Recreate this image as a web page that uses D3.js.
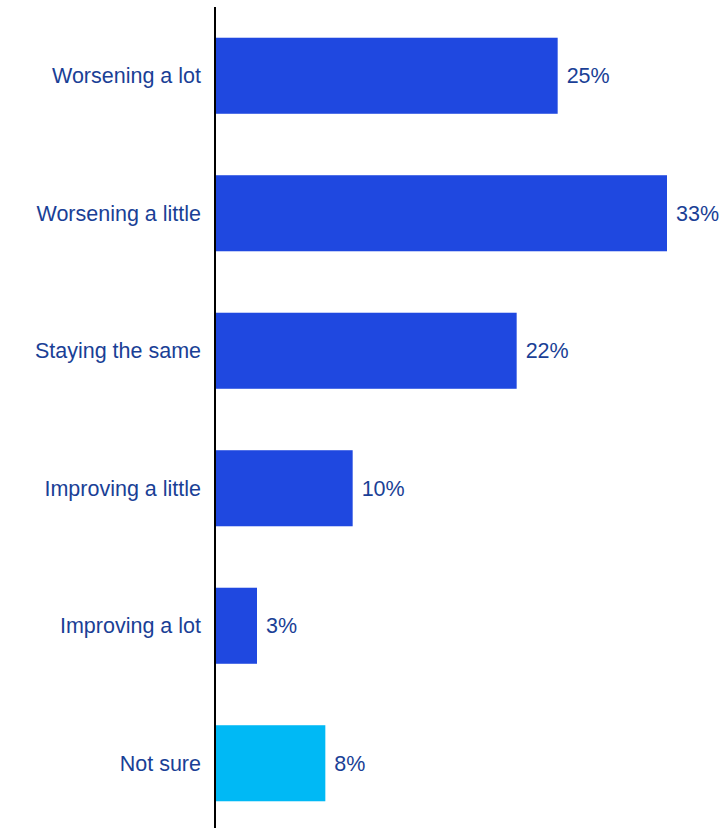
<!DOCTYPE html>
<html>
<head>
<meta charset="utf-8">
<script src="https://cdn.jsdelivr.net/npm/d3@7"></script>
<style>
  body { margin: 0; background: #fff; }
  text { font-family: "Liberation Sans", Arial, sans-serif; }
</style>
</head>
<body>
<svg id="chart"></svg>
<script>
// Data
const categories = ["Worsening a lot", "Worsening a little", "Staying the same", "Improving a little", "Improving a lot", "Not sure"];
const values = [25, 33, 22, 10, 3, 8];
const barColors = ["#1f48e0", "#1f48e0", "#1f48e0", "#1f48e0", "#1f48e0", "#00b9f5"];

const width = 720, height = 828;
const margin = { top: 7, right: 0, bottom: -4, left: 216 };

const svg = d3.select("#chart")
    .attr("width", width)
    .attr("height", height);

const x = d3.scaleLinear()
    .domain([0, 33])
    .range([margin.left, 667]);

const y = d3.scaleBand()
    .domain(categories)
    .range([margin.top, height - margin.bottom])
    .paddingInner(0.447)
    .paddingOuter(0.2235);

// Bars
svg.append("g")
    .selectAll("rect")
    .data(categories)
    .enter().append("rect")
    .attr("x", x(0))
    .attr("y", d => y(d))
    .attr("width", (d, i) => x(values[i]) - x(0))
    .attr("height", y.bandwidth())
    .style("fill", (d, i) => barColors[i]);

// Value labels
svg.append("g")
    .selectAll("text")
    .data(categories)
    .enter().append("text")
    .attr("x", (d, i) => x(values[i]) + 9)
    .attr("y", d => y(d) + y.bandwidth() / 2)
    .attr("dy", "0.35em")
    .style("font-size", "21.5px")
    .style("fill", "#1a3f96")
    .text((d, i) => values[i] + "%");

// Category labels
svg.append("g")
    .selectAll("text")
    .data(categories)
    .enter().append("text")
    .attr("x", 201)
    .attr("y", d => y(d) + y.bandwidth() / 2)
    .attr("dy", "0.35em")
    .attr("text-anchor", "end")
    .style("font-size", "21.5px")
    .style("fill", "#1a3f96")
    .text(d => d);

// Axis line
svg.append("line")
    .attr("x1", 215).attr("x2", 215)
    .attr("y1", 7).attr("y2", height)
    .style("stroke", "#000")
    .style("stroke-width", 2);
</script>
</body>
</html>
